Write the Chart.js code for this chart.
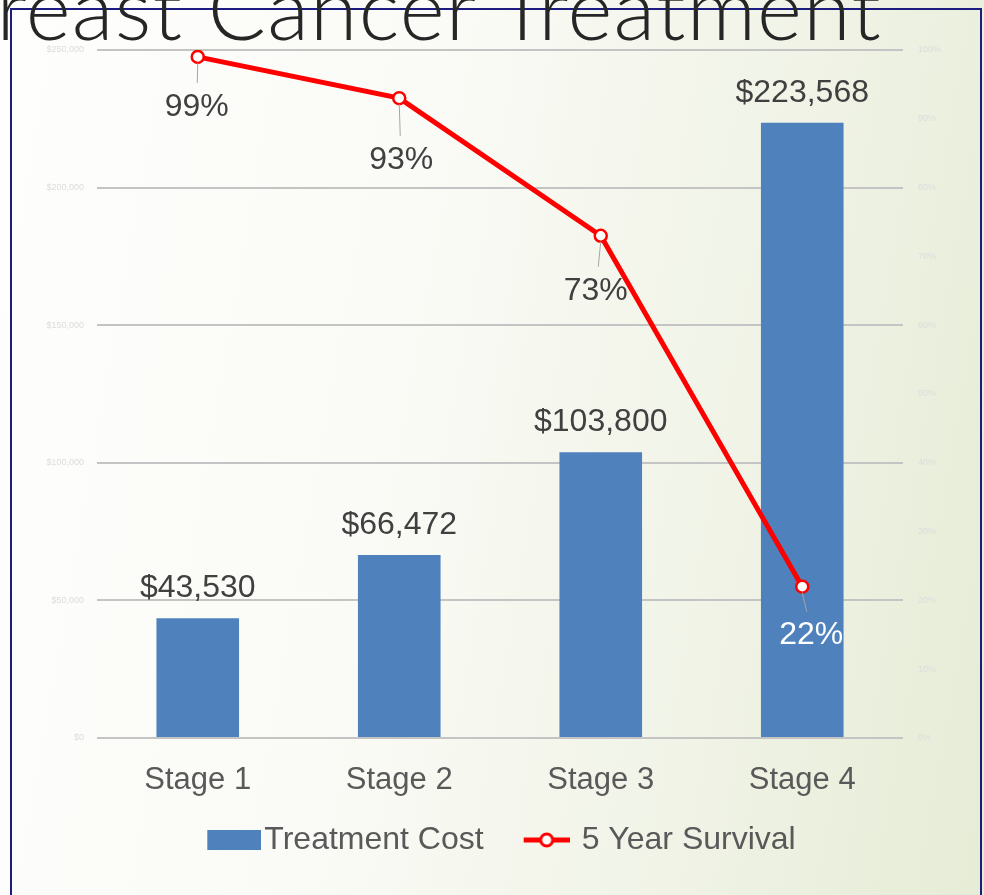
<!DOCTYPE html>
<html>
<head>
<meta charset="utf-8">
<script src="https://cdn.jsdelivr.net/npm/chart.js@4"></script>
<style>
  html, body { margin: 0; padding: 0; }
  body {
    width: 984px; height: 895px; overflow: hidden; position: relative;
    background: linear-gradient(100deg, #fefefd 0%, #fafbf6 40%, #f0f3e6 72%, #e6ecd6 100%);
  }
  #frame {
    position: absolute; left: 10px; top: 8px; width: 972px; height: 1000px;
    border: 2px solid #1c1c80; box-sizing: border-box;
  }
  #title {
    position: absolute; left: -58px; top: -36px; white-space: nowrap;
    font-family: Lato, "Open Sans", sans-serif; font-weight: 300; font-size: 86px;
    letter-spacing: 1.25px; line-height: 1; color: #262626; z-index: 3;
  }
  #wrap { position: absolute; left: 0; top: 0; width: 984px; height: 895px; z-index: 2; }
</style>
</head>
<body>
<div id="frame"></div>
<div id="title">Breast Cancer Treatment</div>
<div id="wrap"><canvas id="chart" width="984" height="895"></canvas></div>
<script>
const categories = ['Stage 1', 'Stage 2', 'Stage 3', 'Stage 4'];
const treatmentCost = [43530, 66472, 103800, 223568];
const survival = [0.99, 0.93, 0.73, 0.22];

const FONT = '"Liberation Sans", Arial, sans-serif';
const LEGEND_BOX = 72;
const LEGEND_FONT = 32;

// legend markers, drawn at the right end of a wider transparent image
// so the marker sits close to its text
function makeMarker(kind) {
    const c = document.createElement('canvas');
    const w = kind === 'bar' ? LEGEND_BOX + LEGEND_FONT - 6 : LEGEND_BOX + LEGEND_FONT - 24;
    c.width = w; c.height = 22;
    const g = c.getContext('2d');
    if (kind === 'bar') {
        g.fillStyle = '#4f81bd';
        g.fillRect(w - 54, 1, 54, 20);
    } else {
        const x0 = w - 46;
        g.strokeStyle = '#ff0000';
        g.lineWidth = 5;
        g.beginPath(); g.moveTo(x0, 11); g.lineTo(w, 11); g.stroke();
        g.beginPath(); g.arc(x0 + 23, 11, 6, 0, Math.PI * 2);
        g.fillStyle = '#ffffff'; g.fill();
        g.lineWidth = 3; g.stroke();
    }
    return c;
}
const barMarker = makeMarker('bar');
const lineMarker = makeMarker('line');

const valueLabels = {
    id: 'valueLabels',
    afterDatasetsDraw(chart) {
        const ctx = chart.ctx;
        // small per-label nudges for the survival labels
        const nudge = [[-1, 0], [2, 12], [-5, 5], [9, -1]];
        ctx.save();
        ctx.font = '32px ' + FONT;
        ctx.textAlign = 'center';
        ctx.textBaseline = 'middle';
        const barMeta = chart.getDatasetMeta(0);
        barMeta.data.forEach((bar, i) => {
            ctx.fillStyle = '#404040';
            ctx.fillText('$' + treatmentCost[i].toLocaleString('en-US'), bar.x, bar.y - 30);
        });
        const lineMeta = chart.getDatasetMeta(1);
        lineMeta.data.forEach((pt, i) => {
            const inside = pt.y > barMeta.data[i].y;
            const tx = pt.x + nudge[i][0];
            const ty = pt.y + 50 + nudge[i][1];
            ctx.strokeStyle = '#a6a6a6';
            ctx.lineWidth = 1;
            ctx.beginPath();
            ctx.moveTo(pt.x, pt.y + 6);
            ctx.lineTo(pt.x + nudge[i][0] * 0.5, ty - 24);
            ctx.stroke();
            ctx.fillStyle = inside ? '#ffffff' : '#404040';
            ctx.fillText(Math.round(survival[i] * 100) + '%', tx, ty);
        });
        ctx.restore();
    }
};

new Chart(document.getElementById('chart'), {
    type: 'bar',
    data: {
        labels: categories,
        datasets: [{
            label: 'Treatment Cost',
            data: treatmentCost,
            backgroundColor: '#4f81bd',
            yAxisID: 'y',
            order: 2,
            barPercentage: 0.41,
            categoryPercentage: 1
        }, {
            type: 'line',
            label: '5 Year Survival',
            data: survival,
            yAxisID: 'y1',
            order: 1,
            borderColor: '#ff0000',
            borderWidth: 5,
            tension: 0,
            pointRadius: 6,
            pointBorderWidth: 2.5,
            pointBackgroundColor: '#ffffff',
            pointBorderColor: '#ff0000'
        }]
    },
    options: {
        responsive: false,
        animation: false,
        layout: { padding: { top: 50, bottom: 29, left: 0, right: 12 } },
        plugins: {
            tooltip: { enabled: false },
            legend: {
                position: 'bottom',
                labels: {
                    usePointStyle: true,
                    pointStyleWidth: LEGEND_BOX,
                    boxHeight: 20,
                    padding: 10,
                    color: '#595959',
                    font: { family: FONT, size: LEGEND_FONT },
                    sort: (a, b) => a.datasetIndex - b.datasetIndex,
                    generateLabels(chart) {
                        const items = Chart.defaults.plugins.legend.labels.generateLabels(chart);
                        items.forEach(it => { it.pointStyle = it.datasetIndex === 0 ? barMarker : lineMarker; });
                        return items;
                    }
                }
            }
        },
        scales: {
            x: {
                grid: { display: false },
                border: { display: false },
                ticks: { color: '#595959', font: { family: FONT, size: 31 }, padding: 16 },
                afterFit: s => { s.height = 76; }
            },
            y: {
                position: 'left',
                min: 0, max: 250000,
                ticks: {
                    stepSize: 50000, padding: 13, color: '#dcdcdc',
                    font: { family: FONT, size: 9 },
                    callback: v => '$' + v.toLocaleString('en-US')
                },
                grid: { color: '#c4c4c4', lineWidth: 2, drawTicks: false },
                border: { display: false },
                afterFit: s => { s.width = 97; }
            },
            y1: {
                position: 'right',
                min: 0, max: 1,
                ticks: {
                    stepSize: 0.1, padding: 15, color: '#dcdcdc',
                    font: { family: FONT, size: 9 },
                    callback: v => Math.round(v * 100) + '%'
                },
                grid: { drawOnChartArea: false, drawTicks: false },
                border: { display: false },
                afterFit: s => { s.width = 69; }
            }
        }
    },
    plugins: [valueLabels]
});
</script>
</body>
</html>
